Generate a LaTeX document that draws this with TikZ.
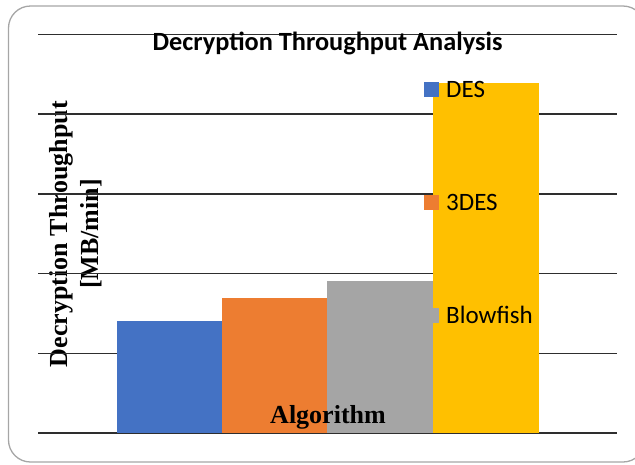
\documentclass[tikz,border=0pt]{standalone}
\usepackage{fontspec}
\setmainfont{Liberation Serif}
\newfontfamily\calibrifont{Carlito}

\definecolor{desblue}{HTML}{4472C4}
\definecolor{tdesorange}{HTML}{ED7D31}
\definecolor{bfgray}{HTML}{A5A5A5}
\definecolor{aesgold}{HTML}{FFC000}
\definecolor{framegray}{HTML}{A6A6A6}
\definecolor{gridgray}{HTML}{2E2E2E}

\tikzset{
  bar/.style={fill=#1, draw=none, inner sep=0pt, outer sep=0pt, anchor=south west},
  gridline/.style={draw=gridgray, line width=1.5pt},
  legendkey/.style={fill=#1, draw=none, inner sep=0pt, minimum size=15pt, anchor=south west},
  legendtext/.style={font=\calibrifont\fontsize{25}{30}\selectfont, anchor=base west, inner sep=0pt},
  axislabel/.style={font=\bfseries\fontsize{26}{31}\selectfont, inner sep=0pt},
}

\begin{document}
\begin{tikzpicture}[x=1pt,y=-1pt]
\useasboundingbox (0,0) rectangle (635,464);
\clip (0,0) rectangle (635,464);

% chart frame
\draw[framegray, line width=1.3pt, rounded corners=22pt] (8.5,6) rectangle (645,462);

% y-axis title (sits under the grid)
\node[axislabel, rotate=90, anchor=base] (ylab1) at (67,234) {Decryption Throughput};
\node[axislabel, rotate=90, anchor=base] (ylab2) at (98,234) {[MB/min]};

% horizontal grid
\foreach \i/\yy in {0/34.5,1/114.2,2/193.9,3/273.6,4/353.3,5/433} {
  \coordinate (gl\i) at (38,\yy);
  \coordinate (gr\i) at (617,\yy);
  \draw[gridline] (gl\i) -- (gr\i);
}

% bars
\node[bar=desblue,    minimum width=105pt, minimum height=112pt] (bdes)  at (117,433) {};
\node[bar=tdesorange, minimum width=105pt, minimum height=135pt] (btdes) at (222,433) {};
\node[bar=bfgray,     minimum width=106pt, minimum height=152pt] (bbf)   at (327,433) {};
\node[bar=aesgold,    minimum width=106pt, minimum height=350pt] (baes)  at (433,433) {};

% title
\node[font=\calibrifont\bfseries\fontsize{26.3}{31}\selectfont, anchor=base, inner sep=0pt] (title) at (327.5,50) {Decryption Throughput Analysis};

% x-axis title
\node[axislabel, anchor=base] (xlab) at (328,423) {Algorithm};

% legend
\node[legendkey=desblue]    (kdes)  at (424,97) {};
\node[legendtext] (tdes)  at (446,97) {DES};
\node[legendkey=tdesorange] (ktdes) at (424,210) {};
\node[legendtext] (ttdes) at (446,210) {3DES};
\node[legendkey=bfgray]     (kbf)   at (424,323) {};
\node[legendtext] (tbf)   at (446,323) {Blowfish};
\end{tikzpicture}
\end{document}
